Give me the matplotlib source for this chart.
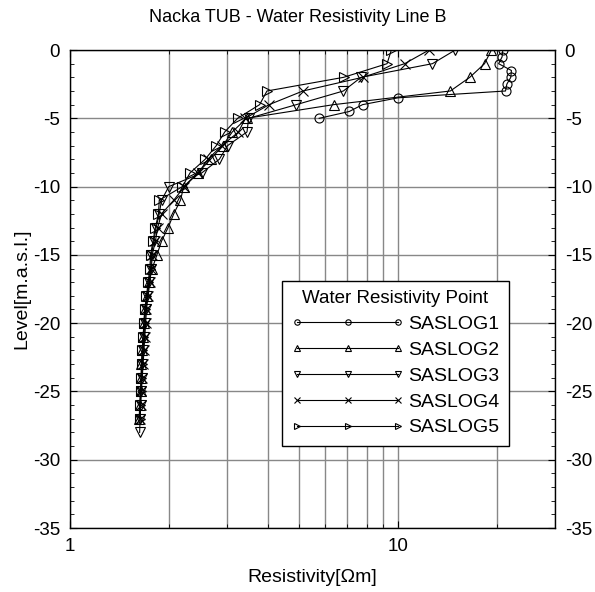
import matplotlib
matplotlib.use("Agg")
import matplotlib.pyplot as plt
from matplotlib.ticker import LogLocator, FixedLocator, NullFormatter, FixedFormatter, MultipleLocator

plt.rcParams['font.family'] = ['Liberation Sans', 'DejaVu Sans']
plt.rcParams['axes.unicode_minus'] = False

# ---- data ----
s1_level = [0, -0.5, -1, -1.5, -2, -2.5, -3, -3.5, -4, -4.5, -5]
s1_res = [20.8, 20.7, 20.2, 22.1, 22.0, 21.4, 21.2, 9.98, 7.78, 7.09, 5.74]

deep_levels = list(range(0, -28, -1))
s2_res = [19.2, 18.3, 16.5, 14.4, 6.35, 3.45, 3.12, 2.92, 2.68, 2.45, 2.22, 2.17, 2.07, 1.99, 1.90, 1.84,
          1.78, 1.74, 1.72, 1.69, 1.68, 1.67, 1.66, 1.65, 1.645, 1.64, 1.63, 1.625]
s3_level = list(range(0, -29, -1))
s3_res = [14.9, 12.7, 7.7, 6.8, 4.89, 3.5, 3.46, 3.02, 2.85, 2.52, 2.0, 1.9, 1.87, 1.83, 1.80, 1.77,
          1.76, 1.74, 1.72, 1.70, 1.69, 1.68, 1.67, 1.66, 1.655, 1.645, 1.64, 1.635, 1.63]
s4_res = [12.4, 10.45, 7.78, 5.12, 4.04, 3.42, 3.26, 2.9, 2.63, 2.46, 2.23, 2.07, 1.9, 1.85, 1.82, 1.78,
          1.77, 1.75, 1.73, 1.71, 1.70, 1.69, 1.68, 1.67, 1.66, 1.65, 1.64, 1.635]
s5_res = [9.52, 9.24, 6.81, 3.98, 3.78, 3.24, 2.96, 2.79, 2.58, 2.32, 2.2, 1.87, 1.86, 1.82, 1.79, 1.76,
          1.75, 1.73, 1.71, 1.69, 1.68, 1.67, 1.66, 1.655, 1.65, 1.64, 1.635, 1.63]

series = [
    ("SASLOG1", s1_res, s1_level, 'o'),
    ("SASLOG2", s2_res, deep_levels, '^'),
    ("SASLOG3", s3_res, s3_level, 'v'),
    ("SASLOG4", s4_res, deep_levels, 'x'),
    ("SASLOG5", s5_res, deep_levels, '>'),
]

x_ticks = [1, 10]
y_ticks = [0, -5, -10, -15, -20, -25, -30, -35]

fig = plt.figure(figsize=(5.95, 5.92), dpi=100)
ax = fig.add_axes([0.1176, 0.1081, 0.8152, 0.8074])

for name, xs, ys, m in series:
    ax.plot(xs, ys, color='black', lw=0.8, marker=m, markersize=6.5,
            markerfacecolor='none', markeredgecolor='black', markeredgewidth=0.8,
            label=name)

ax.set_xscale('log')
ax.set_xlim(1, 30)
ax.set_ylim(-35, 0)

ax.xaxis.set_major_locator(FixedLocator(x_ticks))
ax.xaxis.set_major_formatter(FixedFormatter([str(t) for t in x_ticks]))
ax.xaxis.set_minor_locator(LogLocator(base=10, subs=range(2, 10)))
ax.xaxis.set_minor_formatter(NullFormatter())
ax.yaxis.set_major_locator(FixedLocator(y_ticks))
ax.yaxis.set_minor_locator(MultipleLocator(1))

ax.grid(True, which='both', axis='x', color='#888888', lw=1.0)
ax.grid(True, which='major', axis='y', color='#888888', lw=1.0)
ax.set_axisbelow(True)

ax.tick_params(which='both', direction='in', top=True, right=True,
               labelright=True, labelsize=13.5, pad=7)
ax.tick_params(which='major', length=5)
ax.tick_params(which='minor', length=3)
for sp in ax.spines.values():
    sp.set_linewidth(1.0)

fig.text(0.5, 1 - 18 / 592, "Nacka TUB - Water Resistivity Line B", fontsize=13,
         ha='center', va='center')
ax.set_xlabel("Resistivity[\u03a9m]", fontsize=14, labelpad=10)
ax.set_ylabel("Level[m.a.s.l.]", fontsize=14, labelpad=2)

leg = ax.legend(title="Water Resistivity Point", loc='lower right',
                bbox_to_anchor=(0.905, 0.1715), numpoints=3, handlelength=5.8,
                markerscale=0.6, fontsize=14, title_fontsize=13.5,
                frameon=True, fancybox=False, edgecolor='black', framealpha=1,
                borderpad=0.5, labelspacing=0.42, handletextpad=0.2,
                borderaxespad=0)
leg.get_frame().set_linewidth(1.0)

fig.savefig("out.png", dpi=100)
